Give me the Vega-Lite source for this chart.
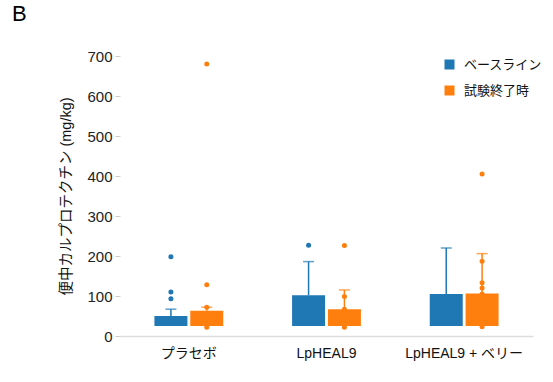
{
  "$schema": "https://vega.github.io/schema/vega-lite/v6.json",
  "width": 413,
  "height": 280,
  "autosize": {"type": "none"},
  "padding": {"left": 120, "top": 56, "right": 20, "bottom": 46},
  "background": "white",
  "config": {
    "font": "Liberation Sans, Noto Sans CJK JP",
    "view": {"stroke": null},
    "axisY": {
      "labelFontSize": 15,
      "labelOverlap": false,
      "labelColor": "#222",
      "tickCount": 8,
      "titleFontSize": 14.5,
      "titleFontWeight": "normal",
      "titleColor": "#111",
      "titlePadding": 13,
      "labelPadding": 3,
      "tickColor": "#cccccc",
      "tickSize": 5,
      "domain": false,
      "grid": false
    }
  },
  "title": {
    "text": "B",
    "anchor": "start",
    "frame": "group",
    "dx": -108,
    "fontSize": 22,
    "fontWeight": "normal",
    "color": "#000",
    "offset": 23
  },
  "datasets": {
    "boxes": [
      {"group": "プラセボ", "period": "ベースライン", "low": 25, "top": 50, "whisker": 67},
      {"group": "プラセボ", "period": "試験終了時", "low": 25, "top": 63, "whisker": 72},
      {"group": "LpHEAL9", "period": "ベースライン", "low": 25, "top": 102, "whisker": 186},
      {"group": "LpHEAL9", "period": "試験終了時", "low": 25, "top": 67, "whisker": 115},
      {"group": "LpHEAL9 + ベリー", "period": "ベースライン", "low": 25, "top": 105, "whisker": 220},
      {"group": "LpHEAL9 + ベリー", "period": "試験終了時", "low": 25, "top": 106, "whisker": 206}
    ],
    "points": [
      {"group": "プラセボ", "period": "ベースライン", "value": 198},
      {"group": "プラセボ", "period": "ベースライン", "value": 110},
      {"group": "プラセボ", "period": "ベースライン", "value": 93},
      {"group": "プラセボ", "period": "試験終了時", "value": 680},
      {"group": "プラセボ", "period": "試験終了時", "value": 128},
      {"group": "プラセボ", "period": "試験終了時", "value": 72},
      {"group": "プラセボ", "period": "試験終了時", "value": 22},
      {"group": "LpHEAL9", "period": "ベースライン", "value": 227},
      {"group": "LpHEAL9", "period": "試験終了時", "value": 226},
      {"group": "LpHEAL9", "period": "試験終了時", "value": 99},
      {"group": "LpHEAL9", "period": "試験終了時", "value": 67},
      {"group": "LpHEAL9", "period": "試験終了時", "value": 22},
      {"group": "LpHEAL9 + ベリー", "period": "試験終了時", "value": 405},
      {"group": "LpHEAL9 + ベリー", "period": "試験終了時", "value": 187},
      {"group": "LpHEAL9 + ベリー", "period": "試験終了時", "value": 133},
      {"group": "LpHEAL9 + ベリー", "period": "試験終了時", "value": 120},
      {"group": "LpHEAL9 + ベリー", "period": "試験終了時", "value": 105},
      {"group": "LpHEAL9 + ベリー", "period": "試験終了時", "value": 23}
    ]
  },
  "encoding": {
    "x": {
      "field": "group",
      "type": "nominal",
      "sort": ["プラセボ", "LpHEAL9", "LpHEAL9 + ベリー"],
      "scale": {"paddingInner": 0.5, "paddingOuter": 0.25},
      "axis": {
        "title": null,
        "labelAngle": 0,
        "labelFontSize": 14,
        "labelColor": "#111",
        "labelPadding": 10,
        "ticks": false,
        "domainColor": "#dddddd",
        "domainWidth": 1.5
      }
    },
    "xOffset": {
      "field": "period",
      "type": "nominal",
      "sort": ["ベースライン", "試験終了時"],
      "scale": {"paddingInner": 0.08, "paddingOuter": 0}
    },
    "color": {
      "field": "period",
      "type": "nominal",
      "sort": ["ベースライン", "試験終了時"],
      "scale": {"domain": ["ベースライン", "試験終了時"], "range": ["#1f77b4", "#ff7f0e"]},
      "legend": {
        "title": null,
        "orient": "none",
        "legendX": 323,
        "legendY": 2,
        "padding": 0,
        "symbolType": "square",
        "symbolSize": 100,
        "symbolOpacity": 1,
        "symbolStrokeWidth": 0,
        "labelFontSize": 13,
        "labelColor": "#111",
        "labelOffset": 8,
        "rowPadding": 12
      }
    }
  },
  "layer": [
    {
      "data": {"name": "boxes"},
      "mark": {"type": "rule", "strokeWidth": 1.5},
      "encoding": {
        "y": {
          "field": "top",
          "type": "quantitative",
          "scale": {"domain": [0, 700], "nice": false},
          "axis": {
            "title": "便中カルプロテクチン (mg/kg)",
            "values": [0, 100, 200, 300, 400, 500, 600, 700],
            "labelOverlap": false,
            "labelFontSize": 15
          }
        },
        "y2": {"field": "whisker"}
      }
    },
    {
      "data": {"name": "boxes"},
      "mark": {"type": "tick", "thickness": 1.5, "size": 11},
      "encoding": {
        "y": {"field": "whisker", "type": "quantitative"}
      }
    },
    {
      "data": {"name": "boxes"},
      "mark": {"type": "bar", "opacity": 1},
      "encoding": {
        "y": {"field": "low", "type": "quantitative"},
        "y2": {"field": "top"}
      }
    },
    {
      "data": {"name": "points"},
      "mark": {"type": "circle", "size": 25, "opacity": 1},
      "encoding": {
        "y": {"field": "value", "type": "quantitative"}
      }
    }
  ]
}
